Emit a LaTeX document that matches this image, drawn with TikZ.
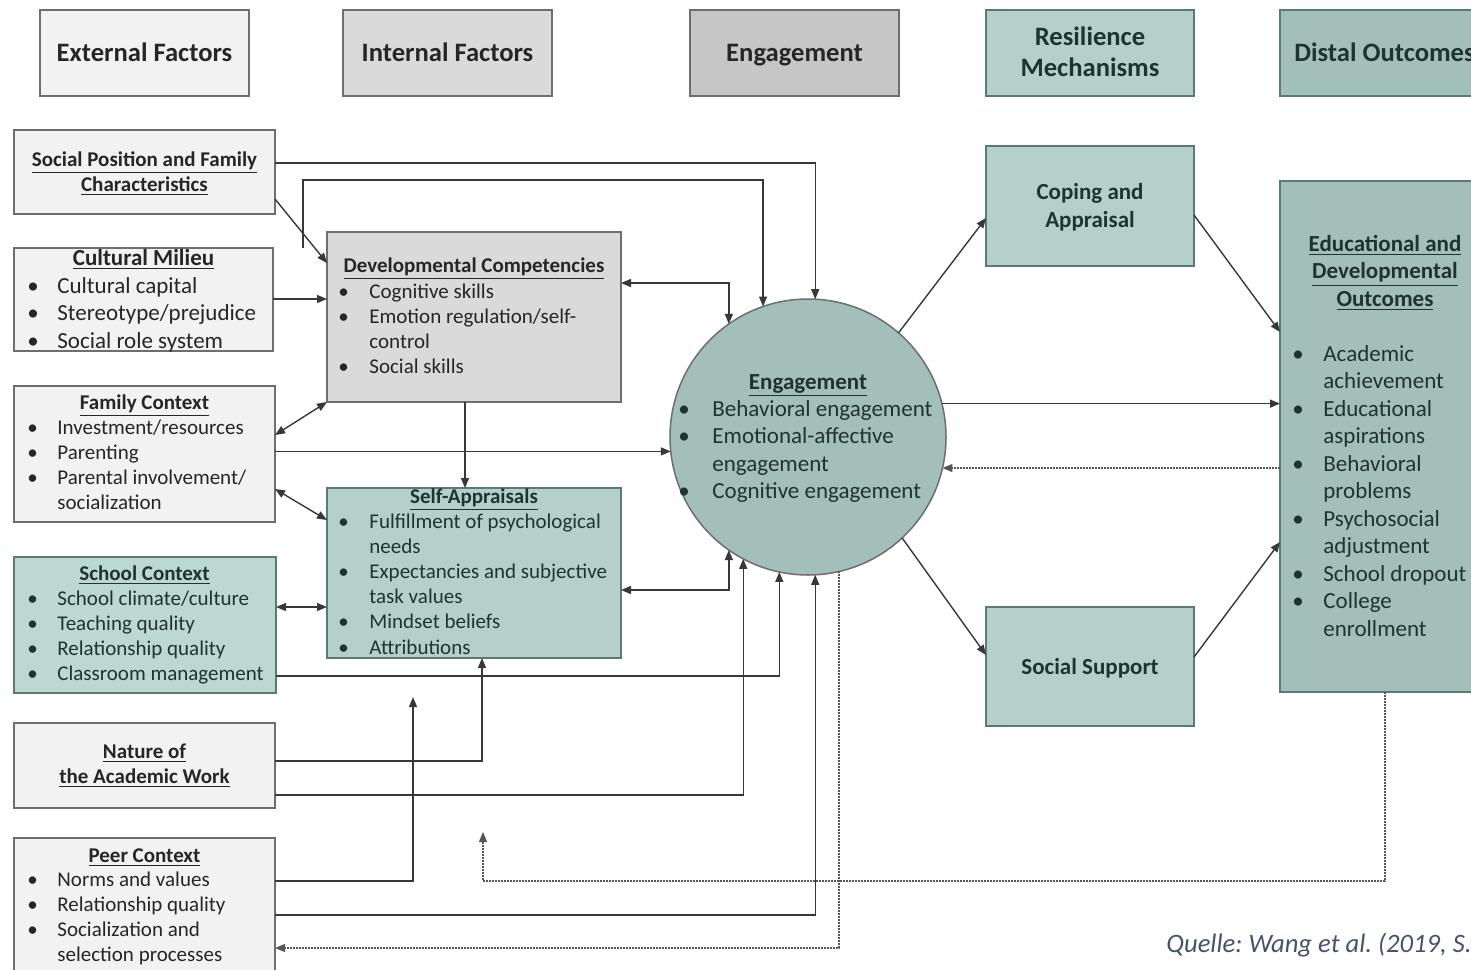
\documentclass[tikz,border=0pt]{standalone}
\usepackage{fontspec}
\setmainfont{Carlito}
\usetikzlibrary{arrows.meta}
\frenchspacing
\definecolor{gA}{HTML}{F2F2F2}
\definecolor{gB}{HTML}{DADADA}
\definecolor{gC}{HTML}{C6C6C6}
\definecolor{tA}{HTML}{B5D0CA}
\definecolor{tS}{HTML}{BBD8D1}
\definecolor{tB}{HTML}{A3BFB9}
\definecolor{bd}{HTML}{6E6E6E}
\definecolor{bdt}{HTML}{5C7A74}
\definecolor{ln}{HTML}{383838}
\definecolor{txt}{HTML}{262626}
\definecolor{txtt}{HTML}{1E3430}
\definecolor{capc}{HTML}{44546A}
\newcommand{\bi}[2][15pt]{\hbox{\llap{\makebox[#1][l]{\textbullet}}#2}}
\newcommand{\ci}[1]{\hbox{#1}}
\newcommand{\cl}[1]{\hbox to 0pt{\hss#1\hss}}
\newcommand{\vl}[2]{\vtop{\baselineskip=#1\relax\lineskiplimit=-20pt\relax #2}}
\begin{document}
\begin{tikzpicture}[x=0.5pt,y=-0.5pt,
 box/.style={draw=bd, line width=0.75pt, inner sep=0pt, outer sep=0pt, anchor=north west},
 f10/.style={font=\fontsize{10.5}{12.5}\selectfont, inner sep=0pt, text=txt},
 f10b/.style={font=\fontsize{10.5}{12.5}\selectfont\bfseries, inner sep=0pt, text=txt, anchor=base},
 f11/.style={font=\fontsize{11.5}{13.75}\selectfont, inner sep=0pt, text=txt},
 f11b/.style={font=\fontsize{11.5}{13.75}\selectfont\bfseries, inner sep=0pt, text=txt, anchor=base},
 hd/.style={font=\fontsize{13.3}{16}\selectfont\bfseries, inner sep=0pt, text=txt, anchor=base},
 arr/.style={draw=ln, line width=0.7pt, -{Triangle[length=5pt,width=4pt]}},
 darr/.style={draw=ln, line width=0.7pt, {Triangle[length=5pt,width=4pt]}-{Triangle[length=5pt,width=4pt]}},
 dotarr/.style={draw=ln!85, line width=0.65pt, dash pattern=on 0.8pt off 0.7pt, -{Triangle[length=5pt,width=4pt]}}
]
\useasboundingbox (0,0) rectangle (1471,969);
\fill[white] (0,0) rectangle (1471,969);

% headers
\node[box, fill=gA, minimum width=104.5pt, minimum height=43pt] (hExt) at (40,10) {};
\node[box, fill=gB, minimum width=104.5pt, minimum height=43pt] (hInt) at (343,10) {};
\node[box, fill=gC, minimum width=104.5pt, minimum height=43pt] (hEng) at (690,10) {};
\node[box, draw=bdt, fill=tA, minimum width=104pt, minimum height=43pt] (hRes) at (986,10) {};
\node[box, draw=bdt, fill=tB, minimum width=110pt, minimum height=43pt] (hDist) at (1280,10) {};
\node[hd] (tExt) at (144.5,61) {External Factors};
\node[hd] (tInt) at (447.5,61) {Internal Factors};
\node[hd] (tEng) at (794.5,61) {Engagement};
\node[hd, text=txtt] (tRes) at (1090,45) {\vl{16pt}{\cl{Resilience}\cl{Mechanisms}}};
\node[hd, text=txtt] (tDist) at (1384.5,61) {Distal Outcomes};

% left column
\node[box, fill=gA, minimum width=130.5pt, minimum height=42pt] (socpos) at (14,130) {};
\node[f10b] (tSoc) at (144.5,166) {\vl{12.5pt}{\cl{\underline{Social Position and Family}}\cl{\underline{Characteristics}}}};

\node[box, fill=gA, minimum width=129.5pt, minimum height=51.5pt] (cult) at (14,248) {};
\node[f11b] (tCult) at (143.5,265) {\underline{Cultural Milieu}};
\node[f11, anchor=base west] (lCult) at (57,293) {\vl{13.75pt}{\bi{Cultural capital}\bi{Stereotype/prejudice}\bi{Social role system}}};

\node[box, fill=gA, minimum width=130.5pt, minimum height=68pt] (fam) at (14,386) {};
\node[f10b] (tFam) at (144.5,409) {\underline{Family Context}};
\node[f10, anchor=base west] (lFam) at (57,434) {\vl{12.6pt}{\bi{Investment/resources}\bi{Parenting}\bi{Parental involvement/}\ci{socialization}}};

\node[box, draw=bdt, fill=tS, minimum width=131pt, minimum height=68pt] (school) at (14,557) {};
\node[f10b, text=txtt] (tSch) at (144.5,580) {\underline{School Context}};
\node[f10, text=txtt, anchor=base west] (lSch) at (57,605) {\vl{12.6pt}{\bi{School climate/culture}\bi{Teaching quality}\bi{Relationship quality}\bi{Classroom management}}};

\node[box, fill=gA, minimum width=130.5pt, minimum height=42.5pt] (nat) at (14,723) {};
\node[f10b] (tNat) at (144.5,758) {\vl{12.5pt}{\cl{\underline{Nature of}}\cl{\underline{the Academic Work}}}};

\node[box, fill=gA, minimum width=130.5pt, minimum height=72pt] (peer) at (14,838) {};
\node[f10b] (tPeer) at (144.5,862) {\underline{Peer Context}};
\node[f10, anchor=base west] (lPeer) at (57,886) {\vl{12.65pt}{\bi{Norms and values}\bi{Relationship quality}\bi{Socialization and}\ci{selection processes}}};

% internal factors
\node[box, fill=gB, minimum width=147pt, minimum height=85pt] (dev) at (327,232) {};
\node[f10b] (tDev) at (474,272) {\underline{Developmental Competencies}};
\node[f10, anchor=base west] (lDev) at (369,298) {\vl{12.5pt}{\bi[15.5pt]{Cognitive skills}\bi[15.5pt]{Emotion regulation/self-}\ci{control}\bi[15.5pt]{Social skills}}};

\node[box, draw=bdt, fill=tA, minimum width=147pt, minimum height=85pt] (sa) at (327,488) {};
\node[f10b, text=txtt] (tSa) at (474,503) {\underline{Self-Appraisals}};
\node[f10, text=txtt, anchor=base west] (lSa) at (369,528) {\vl{12.6pt}{\bi[15.5pt]{Fulfillment of psychological}\ci{needs}\bi[15.5pt]{Expectancies and subjective}\ci{task values}\bi[15.5pt]{Mindset beliefs}\bi[15.5pt]{Attributions}}};

% engagement
\node[circle, draw=bd, line width=0.75pt, fill=tB, minimum size=138pt, inner sep=0pt, outer sep=0pt] (eng) at (808,437) {};
\node[f11b, text=txtt] (tE) at (808,389) {\underline{Engagement}};
\node[f11, text=txtt, anchor=base west] (lE) at (712,416) {\vl{13.75pt}{\bi[17pt]{Behavioral engagement}\bi[17pt]{Emotional-affective}\ci{engagement}\bi[17pt]{Cognitive engagement}}};

% resilience mechanisms
\node[box, draw=bdt, fill=tA, minimum width=104pt, minimum height=60pt] (cope) at (986,146) {};
\node[f11b, text=txtt] (tCope) at (1090,199) {\vl{14pt}{\cl{Coping and}\cl{Appraisal}}};
\node[box, draw=bdt, fill=tA, minimum width=104pt, minimum height=59.5pt] (ss) at (986,607) {};
\node[f11b, text=txtt] (tSs) at (1090,674) {Social Support};

% outcomes
\node[box, draw=bdt, fill=tB, minimum width=110pt, minimum height=255.5pt] (out) at (1280,181) {};
\node[f11b, text=txtt] (tOut) at (1385,251) {\vl{13.75pt}{\cl{\underline{Educational and}}\cl{\underline{Developmental}}\cl{\underline{Outcomes}}}};
\node[f11, text=txtt, anchor=base west] (lOut) at (1323,361) {\vl{13.75pt}{\bi[15.5pt]{Academic}\ci{achievement}\bi[15.5pt]{Educational}\ci{aspirations}\bi[15.5pt]{Behavioral}\ci{problems}\bi[15.5pt]{Psychosocial}\ci{adjustment}\bi[15.5pt]{School dropout}\bi[15.5pt]{College}\ci{enrollment}}};

% caption
\node[font=\fontsize{13.3}{16}\selectfont\itshape, text=capc, anchor=base west, inner sep=0pt] (cap) at (1166,952) {Quelle: Wang et al. (2019, S.};

% free ends
\coordinate (pfree) at (413,697);
\coordinate (dfree) at (483,832);

% connectors
\draw[arr] (socpos.east |- 0,163) -| (eng.87.92);
\draw[arr] (cult.north -| 303,0) |- (eng.109.03 |- 0,180) -- (eng.109.03);
\draw[darr] (dev.east |- 0,283) -| (eng.125.94);
\draw[arr] (socpos.east |- 0,199) -- (dev.west |- 0,263);
\draw[arr] (cult.east |- 0,299) -- (dev.west |- 0,299);
\draw[darr] (fam.east |- 0,435) -- (dev.south west);
\draw[arr] (fam.east |- eng.186.66) -- (eng.186.66);
\draw[darr] (fam.east |- 0,489) -- (sa.west |- 0,520);
\draw[arr] (dev.south -| 465,0) -- (sa.north -| 465,0);
\draw[darr] (school.east |- 0,607) -- (sa.west |- 0,607);
\draw[darr] (sa.east |- 0,590) -| (eng.-125.94);
\draw[arr] (nat.east |- 0,761) -| (sa.south -| 482,0);
\draw[arr] (nat.east |- 0,795) -| (eng.-118.1);
\draw[arr] (school.east |- 0,676) -| (eng.-102.13);
\draw[arr] (peer.east |- 0,881) -| (pfree);
\draw[arr] (peer.east |- 0,915) -| (eng.-87.92);
\draw[dotarr] (out.west |- eng.-13.83) -- (eng.-13.83);
\draw[dotarr] (out.south -| 1385,0) |- (dfree |- 0,881) -- (dfree);
\draw[dotarr] (eng.-77.44) |- (peer.east |- 0,948);
\draw[arr] (eng.49.4) -- (cope.west |- 0,218);
\draw[arr] (cope.east |- 0,215) -- (out.west |- 0,332);
\draw[arr] (eng.14.26) -- (out.west |- eng.14.26);
\draw[arr] (eng.-47) -- (ss.west |- 0,655);
\draw[arr] (ss.east |- 0,657) -- (out.west |- 0,542);
\end{tikzpicture}
\end{document}
